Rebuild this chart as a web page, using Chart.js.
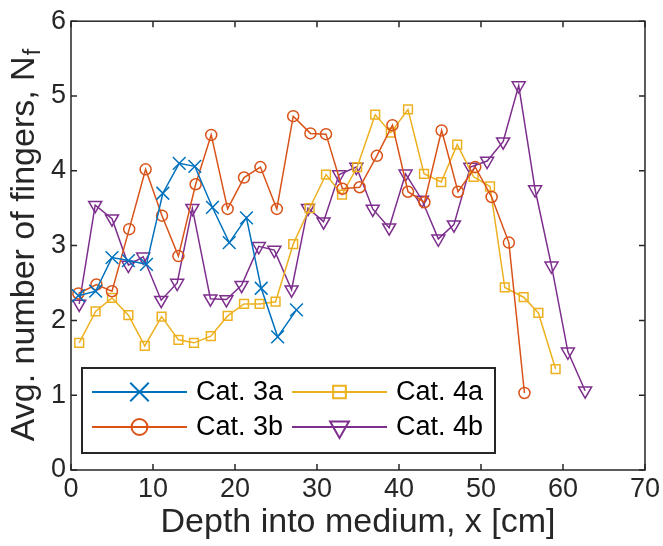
<!DOCTYPE html>
<html>
<head>
<title>Avg. number of fingers vs depth</title>
<script src="https://cdn.jsdelivr.net/npm/chart.js"></script>
<style>
  body { margin: 0; background: #fff; }
</style>
</head>
<body>
<canvas id="myChart" width="663" height="546"></canvas>
<script>
// data
var labels = ['Cat. 3a', 'Cat. 3b', 'Cat. 4a', 'Cat. 4b'];

var x3a = [0.9, 3.0, 5.0, 7.0, 9.2, 11.2, 13.2, 15.1, 17.25, 19.3, 21.4, 23.2, 25.2, 27.5];
var y3a = [2.33, 2.39, 2.84, 2.80, 2.75, 3.70, 4.10, 4.06, 3.51, 3.04, 3.37, 2.43, 1.78, 2.14];

var x3b = [0.9, 3.1, 5.0, 7.1, 9.1, 11.1, 13.1, 15.2, 17.1, 19.1, 21.1, 23.1, 25.1, 27.1,
           29.2, 31.1, 33.1, 35.2, 37.3, 39.2, 41.1, 43.1, 45.2, 47.2, 49.3, 51.3, 53.4, 55.3];
var y3b = [2.36, 2.48, 2.39, 3.22, 4.02, 3.40, 2.86, 3.82, 4.48, 3.49, 3.91, 4.05, 3.49, 4.73,
           4.50, 4.49, 3.76, 3.78, 4.20, 4.61, 3.72, 3.58, 4.54, 3.72, 4.05, 3.65, 3.04, 1.03];

var x4a = [1.0, 3.0, 5.0, 7.0, 9.0, 11.05, 13.1, 15.0, 17.05, 19.1, 21.1, 23.0, 24.95, 27.1, 29.1,
           31.1, 33.05, 34.9, 37.1, 39.0, 41.1, 43.05, 45.15, 47.1, 49.1, 51.1, 52.9, 55.2, 57.0, 59.1];
var y4a = [1.70, 2.12, 2.30, 2.07, 1.66, 2.05, 1.74, 1.70, 1.79, 2.06, 2.22, 2.22, 2.25, 3.02, 3.50,
           3.95, 3.68, 4.05, 4.75, 4.51, 4.82, 3.96, 3.85, 4.35, 3.92, 3.79, 2.44, 2.31, 2.10, 1.35];

var x4b = [1.0, 2.95, 5.0, 7.0, 8.8, 11.0, 12.95, 14.8, 17.0, 18.95, 20.8, 22.9, 24.8, 26.9, 28.9, 30.8,
           32.7, 34.8, 36.8, 38.8, 40.8, 42.8, 44.8, 46.7, 48.7, 50.75, 52.7, 54.6, 56.6, 58.6, 60.6, 62.7];
var y4b = [2.22, 3.54, 3.36, 2.74, 2.85, 2.27, 2.50, 3.50, 2.29, 2.28, 2.47, 2.99, 2.94, 2.41, 3.50, 3.32,
           3.95, 4.05, 3.49, 3.24, 3.96, 3.61, 3.09, 3.28, 4.05, 4.13, 4.39, 5.14, 3.75, 2.73, 1.58, 1.06];

var xTicks = [0, 10, 20, 30, 40, 50, 60, 70];
var yTicks = [0, 1, 2, 3, 4, 5, 6];

var FONT = "'Liberation Sans', Arial, Helvetica, sans-serif";
var AXIS = '#262626';

function pts(xs, ys) {
  return xs.map(function (x, i) { return { x: x, y: ys[i] }; });
}

function series(label, xs, ys, color, style, r, rot) {
  return {
    label: label,
    data: pts(xs, ys),
    borderColor: color,
    backgroundColor: 'rgba(0,0,0,0)',
    borderWidth: 1.5,
    pointStyle: style,
    pointRadius: r,
    pointRotation: rot || 0,
    pointBorderWidth: 1.5,
    pointBorderColor: color,
    pointBackgroundColor: 'rgba(0,0,0,0)',
    pointHoverRadius: r,
    showLine: true,
    tension: 0,
    fill: false,
    legendR: r * 1.45
  };
}

// ticks inside the box on all four sides, plus the box itself
var boxPlugin = {
  id: 'box',
  afterDatasetsDraw: function (chart) {
    var ctx = chart.ctx, a = chart.chartArea;
    var xs = chart.scales.x, ys = chart.scales.y;
    var tl = 6;
    ctx.save();
    ctx.strokeStyle = AXIS;
    ctx.lineWidth = 1.5;
    ctx.beginPath();
    xTicks.forEach(function (v) {
      var px = xs.getPixelForValue(v);
      ctx.moveTo(px, a.bottom); ctx.lineTo(px, a.bottom - tl);
      ctx.moveTo(px, a.top); ctx.lineTo(px, a.top + tl);
    });
    yTicks.forEach(function (v) {
      var py = ys.getPixelForValue(v);
      ctx.moveTo(a.left, py); ctx.lineTo(a.left + tl, py);
      ctx.moveTo(a.right, py); ctx.lineTo(a.right - tl, py);
    });
    ctx.stroke();
    ctx.strokeRect(a.left, a.top, a.right - a.left, a.bottom - a.top);

    // y axis title with subscript
    ctx.fillStyle = AXIS;
    ctx.translate(34, (a.top + a.bottom) / 2);
    ctx.rotate(-Math.PI / 2);
    ctx.textBaseline = 'alphabetic';
    ctx.textAlign = 'left';
    var main = 'Avg. number of fingers, N';
    ctx.font = '34px ' + FONT;
    var w = ctx.measureText(main).width;
    ctx.font = '23px ' + FONT;
    var ws = ctx.measureText('f').width;
    var sx = -(w + ws) / 2;
    ctx.font = '34px ' + FONT;
    ctx.fillText(main, sx, 0);
    ctx.font = '23px ' + FONT;
    ctx.fillText('f', sx + w + 1, 6);
    ctx.restore();
  }
};

// legend box inside the axes, lower left, two columns
var legendPlugin = {
  id: 'boxLegend',
  afterDraw: function (chart) {
    var ctx = chart.ctx;
    var bx = 82, by = 368, bw = 413, bh = 85;
    ctx.save();
    ctx.fillStyle = '#fff';
    ctx.fillRect(bx, by, bw, bh);
    ctx.strokeStyle = AXIS;
    ctx.lineWidth = 2;
    ctx.strokeRect(bx, by, bw, bh);
    var cols = [92, 292];
    var rows = [392, 427];
    chart.data.datasets.forEach(function (ds, i) {
      var x0 = cols[Math.floor(i / 2)], y0 = rows[i % 2];
      var x1 = x0 + 95;
      ctx.strokeStyle = ds.borderColor;
      ctx.lineWidth = 2;
      ctx.beginPath();
      ctx.moveTo(x0, y0); ctx.lineTo(x1, y0);
      ctx.stroke();
      ctx.fillStyle = 'rgba(0,0,0,0)';
      Chart.helpers.drawPoint(ctx, {
        pointStyle: ds.pointStyle,
        rotation: ds.pointRotation,
        radius: ds.legendR,
        borderWidth: 2
      }, (x0 + x1) / 2, y0);
      ctx.fillStyle = '#000';
      ctx.font = '27px ' + FONT;
      ctx.textAlign = 'left';
      ctx.textBaseline = 'middle';
      ctx.fillText(ds.label, x1 + 9, y0 + 1);
    });
    ctx.restore();
  }
};

var ctx = document.getElementById('myChart');
new Chart(ctx, {
  type: 'scatter',
  data: {
    datasets: [
      series(labels[0], x3a, y3a, '#0072BD', 'crossRot', 9),
      series(labels[1], x3b, y3b, '#D95319', 'circle', 5.5),
      series(labels[2], x4a, y4a, '#EDB120', 'rect', 6.2),
      series(labels[3], x4b, y4b, '#7E2F8E', 'triangle', 7.5, 180)
    ]
  },
  options: {
    responsive: false,
    animation: false,
    devicePixelRatio: 1,
    layout: { padding: { left: 0, top: 16, right: 16, bottom: 0 } },
    plugins: {
      legend: { display: false },
      tooltip: { enabled: false }
    },
    scales: {
      x: {
        type: 'linear',
        min: 0, max: 70,
        afterFit: function (s) { s.height = 76; },
        afterBuildTicks: function (s) { s.ticks = xTicks.map(function (v) { return { value: v }; }); },
        grid: { display: false, drawTicks: false },
        border: { display: false },
        ticks: { color: AXIS, padding: 3, font: { family: FONT, size: 27 }, maxRotation: 0 },
        title: {
          display: true,
          text: 'Depth into medium, x [cm]',
          color: AXIS,
          font: { family: FONT, size: 34, lineHeight: 1.2 },
          padding: { top: 0, bottom: 3 }
        }
      },
      y: {
        type: 'linear',
        min: 0, max: 6,
        afterFit: function (s) { s.width = 71; },
        afterBuildTicks: function (s) { s.ticks = yTicks.map(function (v) { return { value: v }; }); },
        grid: { display: false, drawTicks: false },
        border: { display: false },
        ticks: { color: AXIS, padding: 5, font: { family: FONT, size: 27 } }
      }
    }
  },
  plugins: [boxPlugin, legendPlugin]
});
</script>
</body>
</html>
